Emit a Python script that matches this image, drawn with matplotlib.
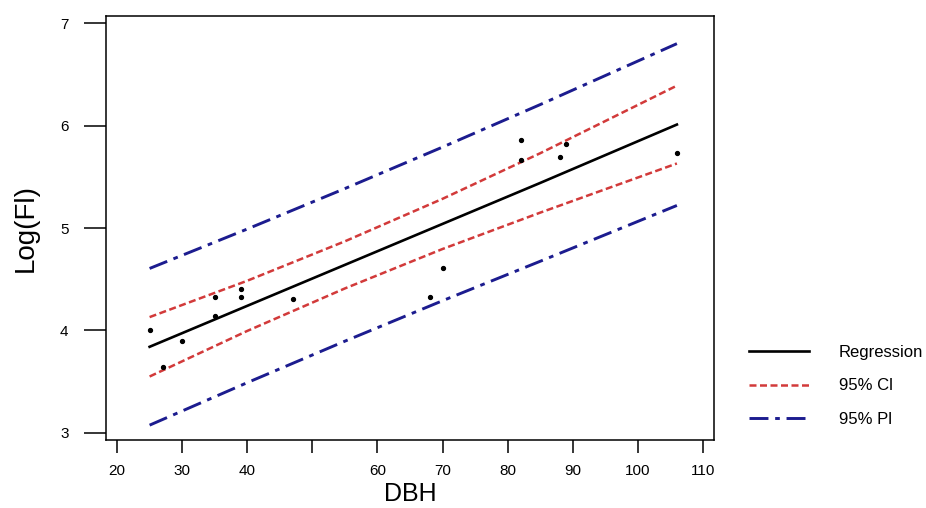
import matplotlib
matplotlib.use("Agg")
import matplotlib.pyplot as plt

plt.rcParams["font.family"] = ["Liberation Sans", "DejaVu Sans"]

# observed points (DBH, Log(FI))
dbh_obs = [25, 27, 30, 35, 35, 39, 39, 47, 68, 70, 82, 82, 88, 89, 106]
logfi_obs = [4.00, 3.64, 3.90, 4.33, 4.14, 4.40, 4.33, 4.31, 4.33, 4.61,
             5.86, 5.66, 5.69, 5.82, 5.73]

# fitted curves read at a few DBH values
dbh_fit = [25, 40, 55, 70, 85, 106]
reg = [3.84, 4.24, 4.64, 5.04, 5.44, 6.01]
ci_up = [4.13, 4.485, 4.87, 5.285, 5.73, 6.39]
ci_lo = [3.55, 3.995, 4.41, 4.795, 5.15, 5.63]
pi_up = [4.605, 4.99, 5.385, 5.79, 6.205, 6.80]
pi_lo = [3.075, 3.49, 3.895, 4.29, 4.675, 5.22]

x_ticks = [20, 30, 40, 50, 60, 70, 80, 90, 100, 110]
x_labels = ["20", "30", "40", "", "60", "70", "80", "90", "100", "110"]
y_ticks = [3, 4, 5, 6, 7]

RED = "#d23a3a"
BLUE = "#1c1c8f"

fig = plt.figure(figsize=(9.26, 5.08), dpi=100)
ax = fig.add_axes([106 / 926, 1 - 440 / 508, (714 - 106) / 926, (440 - 16) / 508])

ax.plot(dbh_fit, reg, color="black", lw=1.9, label="Regression")
ax.plot(dbh_fit, ci_up, color=RED, lw=1.8, dashes=(2.8, 1.4), label="95% Cl")
ax.plot(dbh_fit, ci_lo, color=RED, lw=1.8, dashes=(2.8, 1.4))
ax.plot(dbh_fit, pi_up, color=BLUE, lw=2.1, dashes=(6.5, 2.3, 1.6, 2.3), label="95% Pl")
ax.plot(dbh_fit, pi_lo, color=BLUE, lw=2.1, dashes=(6.5, 2.3, 1.6, 2.3))
ax.plot(dbh_obs, logfi_obs, "o", color="black", ms=2.8, ls="none")

ax.set_xlim(18.3, 111.7)
ax.set_ylim(2.93, 7.07)
ax.set_xticks(x_ticks)
ax.set_xticklabels(x_labels)
ax.set_yticks(y_ticks)
ax.tick_params(axis="y", length=16, width=1.1, pad=11, labelsize=11)
ax.tick_params(axis="x", length=9, width=1.1, pad=8, labelsize=11)
for s in ax.spines.values():
    s.set_linewidth(1.1)

ax.set_xlabel("DBH", fontsize=18, labelpad=3)
ax.set_ylabel("Log(Fl)", fontsize=20, labelpad=15)

leg = ax.legend(loc="center left", bbox_to_anchor=(749 / 926, 1 - 386 / 508),
                bbox_transform=fig.transFigure, frameon=False, fontsize=12,
                handlelength=3.6, handletextpad=1.8, labelspacing=1.1,
                borderaxespad=0, borderpad=0)

fig.savefig("out.png", dpi=100)
